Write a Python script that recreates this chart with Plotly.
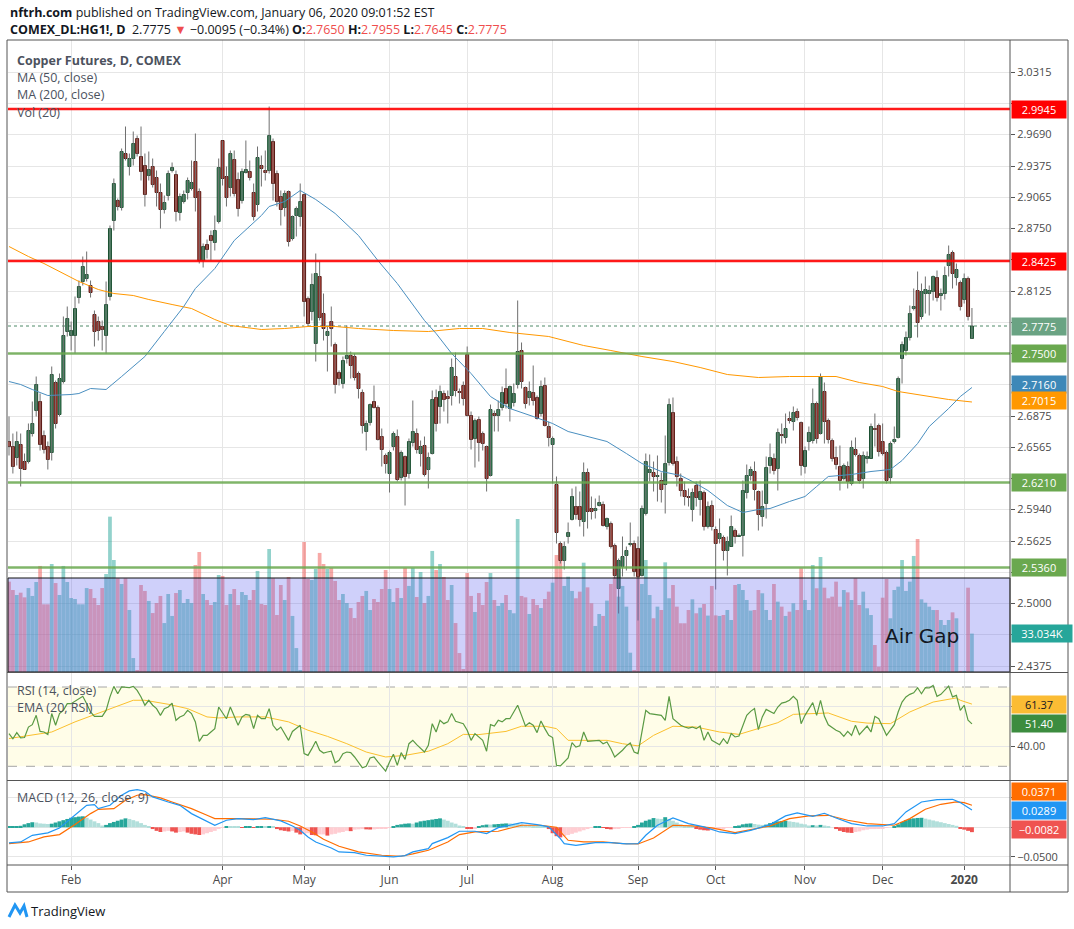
import plotly.graph_objects as go

# ---------------- data ----------------
OPEN = [2.662,2.657,2.646,2.659,2.642,2.642,2.670,2.693,2.702,2.668,2.657,2.651,2.721,2.689,2.722,2.772,2.768,2.768,2.806,2.822,
        2.825,2.818,2.789,2.782,2.777,2.768,2.807,2.883,2.903,2.896,2.950,2.937,2.945,2.965,2.947,2.938,2.928,2.937,2.926,2.911,
        2.894,2.908,2.933,2.929,2.891,2.902,2.911,2.915,2.942,2.912,2.843,2.859,2.868,2.861,2.882,2.963,2.927,2.916,2.944,2.924,
        2.903,2.931,2.932,2.911,2.899,2.938,2.933,2.933,2.962,2.930,2.907,2.896,2.912,2.865,2.888,2.887,2.909,2.805,2.792,2.760,
        2.827,2.790,2.768,2.782,2.759,2.731,2.720,2.745,2.748,2.747,2.730,2.711,2.672,2.681,2.702,2.696,2.667,2.648,2.630,2.657,
        2.667,2.626,2.647,2.630,2.661,2.670,2.650,2.658,2.634,2.650,2.706,2.697,2.710,2.707,2.708,2.727,2.712,2.718,2.749,2.688,
        2.665,2.684,2.670,2.657,2.628,2.690,2.688,2.696,2.715,2.695,2.701,2.719,2.753,2.716,2.706,2.711,2.706,2.690,2.718,2.677,
        2.659,2.619,2.560,2.543,2.567,2.584,2.597,2.597,2.582,2.631,2.595,2.593,2.598,2.599,2.577,2.580,2.558,2.515,2.537,2.548,
        2.559,2.560,2.555,2.528,2.590,2.631,2.631,2.627,2.623,2.619,2.641,2.691,2.642,2.625,2.613,2.607,2.594,2.618,2.604,2.611,
        2.577,2.598,2.574,2.565,2.566,2.553,2.557,2.573,2.567,2.568,2.611,2.628,2.632,2.612,2.587,2.600,2.638,2.645,2.635,2.669,
        2.666,2.685,2.682,2.692,2.681,2.637,2.662,2.663,2.700,2.670,2.712,2.683,2.663,2.646,2.637,2.625,2.637,2.620,2.654,2.648,
        2.625,2.645,2.645,2.675,2.678,2.662,2.651,2.626,2.662,2.666,2.745,2.753,2.766,2.795,2.813,2.787,2.810,2.810,2.812,2.826,
        2.808,2.810,2.838,2.851,2.826,2.821,2.804,2.825,2.765]
HIGH = [2.687,2.670,2.672,2.670,2.650,2.680,2.702,2.727,2.710,2.673,2.662,2.737,2.723,2.730,2.787,2.797,2.782,2.807,2.823,2.847,
        2.852,2.823,2.793,2.787,2.783,2.822,2.878,2.925,2.905,2.955,2.977,2.950,2.972,2.968,2.977,2.950,2.952,2.945,2.933,2.920,
        2.908,2.933,2.941,2.933,2.910,2.913,2.926,2.943,2.970,2.915,2.860,2.864,2.873,2.888,2.945,2.963,2.937,2.953,2.953,2.931,
        2.935,2.963,2.943,2.920,2.957,2.948,2.953,2.997,2.965,2.933,2.913,2.913,2.913,2.888,2.897,2.920,2.910,2.807,2.830,2.850,
        2.842,2.810,2.777,2.797,2.761,2.733,2.747,2.778,2.752,2.750,2.732,2.714,2.683,2.700,2.718,2.698,2.675,2.650,2.653,2.672,
        2.674,2.653,2.648,2.665,2.703,2.675,2.663,2.667,2.651,2.713,2.714,2.718,2.713,2.713,2.745,2.751,2.715,2.722,2.757,2.692,
        2.685,2.687,2.672,2.658,2.699,2.693,2.703,2.717,2.735,2.718,2.720,2.803,2.761,2.717,2.722,2.738,2.708,2.723,2.726,2.682,
        2.667,2.627,2.562,2.562,2.581,2.615,2.617,2.612,2.641,2.635,2.607,2.605,2.608,2.602,2.586,2.582,2.560,2.545,2.567,2.557,
        2.581,2.563,2.567,2.598,2.650,2.649,2.642,2.648,2.631,2.668,2.705,2.706,2.647,2.630,2.622,2.615,2.615,2.622,2.623,2.613,
        2.602,2.603,2.577,2.585,2.568,2.567,2.588,2.575,2.570,2.623,2.639,2.637,2.642,2.613,2.613,2.647,2.660,2.650,2.675,2.680,
        2.690,2.692,2.697,2.695,2.682,2.657,2.677,2.715,2.702,2.730,2.721,2.685,2.665,2.657,2.658,2.640,2.642,2.663,2.666,2.650,
        2.652,2.652,2.680,2.690,2.680,2.680,2.653,2.662,2.677,2.727,2.762,2.772,2.798,2.815,2.832,2.820,2.827,2.818,2.828,2.833,
        2.815,2.837,2.858,2.853,2.840,2.823,2.830,2.827,2.7955]
LOW = [2.648,2.630,2.638,2.617,2.634,2.640,2.667,2.687,2.653,2.650,2.634,2.643,2.675,2.687,2.720,2.767,2.753,2.750,2.800,2.818,
       2.822,2.806,2.757,2.763,2.753,2.750,2.803,2.873,2.893,2.893,2.943,2.928,2.938,2.947,2.923,2.897,2.923,2.916,2.897,2.875,
       2.890,2.903,2.931,2.882,2.883,2.900,2.904,2.913,2.892,2.840,2.836,2.845,2.843,2.853,2.880,2.918,2.897,2.907,2.907,2.887,
       2.900,2.930,2.923,2.883,2.892,2.917,2.923,2.930,2.903,2.897,2.878,2.887,2.857,2.863,2.867,2.877,2.787,2.777,2.783,2.742,
       2.783,2.763,2.732,2.757,2.710,2.718,2.715,2.740,2.725,2.723,2.705,2.670,2.653,2.678,2.695,2.663,2.637,2.630,2.611,2.653,
       2.622,2.623,2.598,2.625,2.657,2.650,2.637,2.627,2.615,2.649,2.672,2.680,2.692,2.680,2.698,2.707,2.700,2.698,2.687,2.654,
       2.636,2.642,2.653,2.612,2.627,2.672,2.672,2.693,2.695,2.682,2.697,2.715,2.715,2.695,2.698,2.698,2.684,2.687,2.677,2.657,
       2.620,2.560,2.540,2.534,2.560,2.583,2.584,2.577,2.567,2.575,2.584,2.585,2.597,2.577,2.574,2.555,2.525,2.490,2.527,2.533,
       2.557,2.527,2.483,2.527,2.588,2.622,2.612,2.602,2.601,2.590,2.638,2.638,2.617,2.607,2.598,2.597,2.582,2.597,2.588,2.573,
       2.575,2.573,2.514,2.560,2.543,2.528,2.557,2.560,2.567,2.547,2.605,2.623,2.603,2.573,2.577,2.585,2.630,2.629,2.613,2.660,
       2.660,2.680,2.673,2.683,2.628,2.630,2.653,2.660,2.660,2.669,2.660,2.660,2.642,2.634,2.613,2.623,2.615,2.618,2.647,2.620,
       2.615,2.640,2.645,2.657,2.647,2.648,2.620,2.620,2.660,2.665,2.720,2.748,2.763,2.793,2.766,2.784,2.790,2.788,2.803,2.802,
       2.793,2.804,2.827,2.815,2.818,2.793,2.800,2.783,2.7645]
CLOSE = [2.657,2.637,2.662,2.635,2.634,2.673,2.680,2.719,2.659,2.654,2.644,2.729,2.680,2.725,2.768,2.785,2.773,2.795,2.817,2.837,
         2.829,2.811,2.772,2.773,2.774,2.799,2.875,2.920,2.897,2.952,2.945,2.945,2.960,2.950,2.932,2.909,2.934,2.919,2.911,2.894,
         2.901,2.930,2.936,2.892,2.907,2.909,2.923,2.921,2.906,2.843,2.857,2.854,2.863,2.873,2.936,2.925,2.906,2.950,2.910,2.895,
         2.932,2.934,2.926,2.887,2.946,2.935,2.931,2.968,2.920,2.902,2.894,2.910,2.862,2.887,2.895,2.902,2.802,2.780,2.819,2.830,
         2.786,2.775,2.772,2.775,2.719,2.725,2.743,2.748,2.738,2.726,2.715,2.678,2.680,2.699,2.696,2.664,2.654,2.640,2.651,2.670,
         2.624,2.651,2.627,2.662,2.672,2.654,2.657,2.629,2.646,2.704,2.680,2.712,2.704,2.705,2.736,2.713,2.711,2.705,2.688,2.664,
         2.683,2.661,2.660,2.625,2.694,2.688,2.694,2.711,2.700,2.717,2.710,2.752,2.722,2.700,2.712,2.703,2.685,2.717,2.678,2.666,
         2.665,2.571,2.543,2.557,2.571,2.607,2.589,2.584,2.631,2.592,2.592,2.595,2.601,2.578,2.585,2.557,2.528,2.543,2.547,2.553,
         2.560,2.532,2.527,2.595,2.642,2.634,2.627,2.628,2.614,2.640,2.699,2.640,2.627,2.613,2.607,2.606,2.611,2.606,2.612,2.577,
         2.597,2.577,2.560,2.570,2.553,2.562,2.577,2.567,2.568,2.613,2.628,2.634,2.614,2.589,2.597,2.636,2.646,2.633,2.671,2.668,
         2.675,2.683,2.691,2.686,2.638,2.653,2.671,2.700,2.665,2.727,2.682,2.664,2.645,2.639,2.623,2.638,2.622,2.656,2.649,2.623,
         2.648,2.647,2.677,2.674,2.652,2.650,2.623,2.660,2.664,2.725,2.759,2.766,2.790,2.797,2.781,2.812,2.814,2.813,2.827,2.806,
         2.810,2.828,2.849,2.830,2.834,2.797,2.825,2.787,2.7775]

VOLUME_K = [77.7,70.5,66.2,68.2,64.2,72.2,65.4,77.4,91.2,58.2,58.2,92.9,76.5,66.2,91.2,77.4,63.6,62.8,58.2,58.2,
            72.2,71.4,63.6,57.6,72.2,84.3,133.6,96.3,80.6,75.7,80.6,53.3,12.0,1.7,74.8,69.7,61.1,50.7,59.3,65.4,
            42.1,67.1,48.2,67.9,70.5,59.3,62.8,59.3,92.0,103.2,67.1,61.9,57.6,60.2,83.4,82.6,57.6,67.1,71.4,57.6,
            68.8,66.2,61.9,70.5,86.9,58.5,57.6,105.8,80.6,49.0,74.8,61.9,81.7,48.2,20.6,1.7,111.8,80.0,79.1,88.6,
            102.4,92.9,88.6,89.5,78.3,61.9,67.1,59.3,55.0,46.4,60.2,65.4,69.7,53.3,62.8,60.2,71.4,87.7,71.4,60.2,
            72.2,63.6,89.5,74.0,89.5,64.5,86.0,59.3,65.4,104.1,87.7,92.9,81.7,61.9,74.8,42.1,16.3,2.6,85.1,65.4,
            51.6,67.9,57.6,77.4,85.1,61.9,56.8,59.3,66.2,53.3,50.5,131.6,65.4,64.2,49.9,62.8,57.6,55.0,62.8,69.1,
            76.8,100.6,96.3,74.0,82.0,69.7,63.4,69.1,94.0,72.8,59.1,39.6,49.9,48.2,61.4,75.7,82.0,64.8,74.0,56.2,
            16.6,1.7,106.4,75.7,96.3,66.2,46.2,56.2,53.3,94.3,63.4,74.8,56.2,41.9,41.9,53.3,62.5,50.5,55.3,58.5,
            48.5,74.0,48.7,48.2,49.0,53.3,44.7,74.8,75.7,70.5,61.9,52.8,53.3,70.5,67.7,53.3,44.7,75.7,60.5,56.2,
            48.2,51.9,59.1,53.3,89.2,61.9,53.3,92.0,72.0,98.9,72.5,63.4,64.8,77.7,56.2,70.5,68.5,61.9,80.6,57.6,
            69.1,54.8,49.0,23.2,4.6,63.9,80.0,46.2,70.5,73.4,96.3,69.7,77.7,99.8,114.4,62.5,59.6,56.2,53.3,53.3,
            44.7,40.4,44.7,51.3,46.2,0.9,0.9,72.5,33.034]

MA50_IDX = [0,3,6,10,16,18,21,25,29,35,40,45,48,53,58,65,67,71,75,79,84,90,95,100,107,110,114,119,124,129,
            135,140,144,149,154,159,163,168,173,176,180,185,189,193,196,201,205,208,211,217,222,227,230,234,237,242,245,248]
MA50_VAL = [2.722,2.719,2.714,2.708,2.709,2.710,2.715,2.714,2.727,2.747,2.772,2.797,2.815,2.835,2.863,2.888,2.897,2.902,2.913,2.904,
            2.890,2.868,2.843,2.820,2.783,2.770,2.750,2.730,2.707,2.695,2.687,2.680,2.672,2.667,2.662,2.650,2.640,2.632,2.628,2.622,
            2.613,2.598,2.591,2.594,2.595,2.602,2.607,2.617,2.627,2.629,2.632,2.634,2.643,2.660,2.677,2.695,2.707,2.716]
MA200_IDX = [0,5,9,13,18,23,27,32,36,42,47,53,57,65,71,77,84,90,99,108,116,122,129,139,148,155,163,171,178,185,
             193,201,213,219,225,229,235,242,248]
MA200_VAL = [2.857,2.847,2.840,2.832,2.822,2.814,2.810,2.808,2.804,2.799,2.795,2.784,2.778,2.774,2.775,2.777,2.777,2.775,2.773,2.772,
             2.775,2.775,2.771,2.767,2.758,2.753,2.747,2.742,2.736,2.729,2.726,2.727,2.727,2.721,2.717,2.712,2.708,2.704,2.7015]

RSI_IDX = [0,1,2,3,4,5,6,7,8,9,10,11,12,13,14,15,16,17,18,19,20,21,22,23,24,25,26,27,28,29,30,31,32,33,34,35,36,37,38,39,
           40,41,42,43,44,45,46,47,48,49,50,51,52,53,54,55,56,57,58,59,60,61,62,63,64,65,66,67,68,69,70,71,72,73,74,75,76,77,78,79,
           80,81,82,83,84,85,86,87,88,89,91,92,93,94,95,96,97,98,99,100,101,102,103,104,105,107,108,109,110,111,112,113,114,115,
           117,118,119,120,121,122,123,124,125,126,127,128,129,131,132,133,134,135,136,137,138,139,140,141,142,144,145,146,147,148,
           149,151,152,153,154,155,156,158,159,160,161,162,163,164,165,167,168,169,170,171,173,174,175,176,177,178,179,180,181,183,
           184,185,186,187,188,190,191,192,193,194,195,197,198,199,200,201,202,203,204,205,206,207,208,209,210,211,213,214,215,216,
           217,218,219,221,222,223,224,225,226,228,229,230,231,232,233,234,235,236,237,238,239,240,241,242,243,244,245,246,247,248]
RSI_VAL = [46.5,43.9,47.0,44.3,44.5,49.8,51.0,55.7,47.6,47.3,46.0,56.6,50.7,56.6,58.2,61.6,61.6,62.8,63.8,65.3,61.6,57.4,55.2,55.2,55.2,
           58.2,65.0,70.3,66.6,70.0,69.7,69.7,70.3,68.3,65.0,60.8,63.3,60.8,59.1,55.7,59.1,59.9,61.9,53.2,54.9,55.7,58.2,56.6,52.4,42.6,
           45.6,45.6,47.3,49.0,59.9,56.6,54.0,59.9,54.9,50.7,54.9,56.2,55.7,49.0,55.7,54.0,54.0,59.1,50.7,48.2,49.8,46.5,43.1,47.6,49.3,
           50.7,36.4,35.5,38.9,42.6,38.1,36.7,37.2,37.6,31.8,33.0,36.4,37.2,36.9,34.7,29.3,30.0,34.2,34.7,32.2,29.7,27.6,32.2,36.1,30.5,
           36.9,33.5,41.4,43.1,40.9,37.2,40.6,51.5,47.3,53.2,51.5,52.4,56.6,52.7,51.5,48.2,43.1,46.5,44.8,43.1,37.6,51.0,50.3,53.2,52.4,
           54.0,54.0,60.8,55.7,50.3,52.0,50.7,47.0,52.9,49.0,45.6,44.5,30.5,30.2,34.2,41.9,39.7,40.3,47.3,42.6,43.1,43.1,41.4,42.3,38.9,
           34.7,38.1,40.3,41.8,37.2,36.4,48.2,58.2,56.6,56.1,55.7,53.2,65.3,54.0,50.7,49.8,49.3,49.8,49.0,50.3,43.1,47.3,43.1,40.9,43.9,
           41.4,46.5,44.8,45.3,55.7,57.7,59.1,48.5,54.9,58.7,56.6,59.9,61.9,62.4,63.3,65.3,63.3,51.5,55.7,58.7,62.1,55.7,63.3,55.2,50.9,
           48.2,47.3,45.1,47.6,45.6,50.7,46.0,50.3,47.3,55.2,54.0,49.8,45.6,51.0,57.4,62.4,65.0,66.3,67.1,69.6,66.6,69.7,69.5,70.8,65.3,
           66.3,68.3,70.5,65.0,65.8,58.2,60.8,53.2,51.40]
EMA_IDX = [0,6,11,17,22,27,32,35,41,46,51,54,59,66,72,77,82,87,92,97,102,108,113,117,121,128,132,138,141,144,
           149,154,158,162,166,171,177,183,188,193,198,202,207,211,217,221,227,232,238,244,245,248]
EMA_VAL = [44.0,45.6,47.3,52.4,56.1,59.9,63.3,63.3,61.3,59.1,54.9,54.4,54.9,54.9,52.4,48.2,45.1,41.4,37.2,34.7,
           35.5,37.6,41.4,46.1,46.0,47.6,50.2,50.2,49.0,43.1,43.1,43.1,41.4,40.3,45.6,50.2,49.8,47.3,46.1,49.0,
           52.0,56.2,56.6,56.9,52.7,51.8,51.5,57.4,62.4,64.5,63.3,61.37]

MACD_IDX = [0,3,6,10,13,17,20,22,23,26,29,31,33,35,37,41,44,47,51,53,56,59,63,66,70,73,75,77,79,83,
            85,89,92,96,99,102,104,108,109,113,116,120,123,126,132,136,139,142,143,146,151,155,159,162,164,167,171,175,179,183,
            187,191,196,200,203,207,210,213,217,221,225,228,231,235,239,243,245,248]
MACD_VAL = [-0.0264,-0.0247,-0.0135,-0.0095,-0.0011,0.0202,0.037,0.038,0.0314,0.037,0.0539,0.0612,0.0634,0.0606,0.0511,0.0426,0.037,0.023,0.009,0.0034,
            0.0118,0.0146,0.0129,0.0163,0.0107,0.0022,-0.0051,-0.0163,-0.0247,-0.0348,-0.0415,-0.0426,-0.0471,-0.0483,-0.0499,-0.0477,-0.0415,-0.0359,-0.0275,-0.0174,
            -0.0067,-0.0067,-0.0107,-0.0006,0.0079,0.0045,0.0006,-0.0191,-0.0275,-0.0303,-0.0258,-0.0258,-0.0281,-0.0275,-0.0135,0.0034,0.0157,0.0062,0.0006,-0.0079,
            -0.0107,-0.0051,0.0045,0.0191,0.0241,0.0185,0.0236,0.0157,0.0062,0.0022,0.0022,0.0062,0.0258,0.0426,0.0466,0.0471,0.0415,0.0289]
SIGNAL_IDX = [0,5,9,13,17,21,23,27,30,33,35,39,42,47,51,53,58,63,68,72,75,78,81,85,90,96,101,104,108,113,
              116,120,123,126,132,137,141,144,148,153,158,162,166,171,176,181,187,192,196,201,206,211,216,221,225,228,232,236,240,244,246,248]
SIGNAL_VAL = [-0.0275,-0.0247,-0.0163,-0.0123,0.0045,0.023,0.0303,0.0314,0.0455,0.0539,0.055,0.0494,0.0426,0.0314,0.0202,0.0146,0.0146,0.0135,0.0135,0.0101,
              0.0022,-0.0079,-0.0202,-0.032,-0.0415,-0.0471,-0.0488,-0.0449,-0.0387,-0.0247,-0.0123,-0.0079,-0.0079,-0.0067,0.0034,0.0034,0.0,-0.0219,-0.0247,-0.0247,
              -0.0275,-0.0281,-0.018,0.0034,0.0022,-0.0011,-0.009,-0.0022,0.0022,0.0146,0.0191,0.0202,0.0118,0.0062,0.0045,0.0034,0.0146,0.0303,0.0387,0.0426,
              0.0415,0.0371]
HIST_MILLI = [1.0,1.5,2.0,2.5,5,7,8.5,8,6.5,6,5.5,
              6,8,10,12,14,16,17,18,18.5,16,13,10,7,3,
              4,7,9,11,13,15,14,12,10,7,4,1,
              -3,-6,-8,-7,-6,-7,-9,-8,-7,-9,-11,-12,-13,-12,-10,-8,-6,-3,-1,
              2,2,1,0.5,-0.5,0.5,1,-0.5,1,1.5,1.5,2,2,
              -3,-5,-6,-7,-6,-9,-12,-11,-10,-13,-13.5,-12,-12,-14,-12,-11,-9,-8,-6,-6.5,-4,-3.5,-3,-3.5,-3.8,-3.5,-2,-2,-1.5,-1,
              2,4,5,6,6.5,6,8,10,11,12,13,14,15,13,11,8,6,3,1,-2,-3,-2,2,3.5,4.5,
              4.5,5,5.5,6,6.5,6.5,6,5.5,5,4,3.5,3,2.5,2,1,-3,-10,-15,-17,-15,
              -13,-11,-9,-7,-5,-3,-1,0.5,1,-1,-2,-3.5,-3,-1.5,-1,-1,-0.5,1,4,8,
              11,13,15.5,14.5,14,17,14,11,8,5,3,1,0.5,-2,-4,-5,-5.5,-5,-4,-3,
              -2,-1,-0.5,0.5,3,5,6,6.5,5.5,4.5,4,4.5,7,9,10,10.5,11,10,9,8,
              6,5,3,3.5,3,4,3,2,0,-3,-6,-8,-9,-9.5,-8,-7,-5,-4,-3,-3,
              -2.5,-2,-1,0,2,5,9,12,14,15,15.7,16,14.5,13,11.5,10,8.5,7,5.5,4,
              2.5,-2,-4,-6,-8.2]

MONTH_IDX = [16, 55, 76, 98, 118, 140, 162, 182, 205, 225, 246]
MONTH_LABELS = ["Feb", "Apr", "May", "Jun", "Jul", "Aug", "Sep", "Oct", "Nov", "Dec", "<b>2020</b>"]
PRICE_TICKS = [3.0315, 3.0000, 2.9690, 2.9375, 2.9065, 2.8750, 2.8440, 2.8125, 2.7815, 2.7500,
               2.7190, 2.6875, 2.6565, 2.6250, 2.5940, 2.5625, 2.5315, 2.5000, 2.4690, 2.4375]
# tick labels hidden behind the coloured value tags on the right axis
COVERED_TICKS = [3.0000, 2.8440, 2.7815, 2.7500, 2.7190, 2.6250, 2.5315, 2.4690]
RED_LEVELS = [2.9945, 2.8425]
GREEN_LEVELS = [2.7500, 2.6210, 2.5360]
AIR_GAP_TOP = 2.5255

# ---------------- geometry helpers ----------------
W, H = 1074, 929
PL, PR, PT, PB = 8, 1010, 40, 865


def pxx(x):
    return (x - PL) / (PR - PL)


def pyy(y):
    return (PB - y) / (PB - PT)


FONT = "Open Sans"
n = len(CLOSE)
idx = list(range(n))
up = [c >= o for o, c in zip(OPEN, CLOSE)]

fig = go.Figure()

# volume (base axis y, below candles)
vol_colors = ["rgba(38,166,154,0.5)" if u else "rgba(239,83,80,0.5)" for u in up]
fig.add_trace(go.Bar(x=idx, y=VOLUME_K, width=0.96, marker=dict(color=vol_colors, line=dict(width=0)),
                     xaxis="x", yaxis="y", hoverinfo="skip"))

# wicks
wx, wy = [], []
for i, (hh, ll) in enumerate(zip(HIGH, LOW)):
    wx += [i, i, None]
    wy += [ll, hh, None]
fig.add_trace(go.Scatter(x=wx, y=wy, mode="lines", line=dict(color="#6f6f6f", width=1),
                         xaxis="x", yaxis="y4", hoverinfo="skip"))

# bodies
for is_up, fill, edge in [(True, "#3b8c5e", "#1b4f31"), (False, "#c23b30", "#581812")]:
    xs = [i for i in idx if up[i] == is_up]
    base = [min(OPEN[i], CLOSE[i]) for i in xs]
    hgt = [max(abs(CLOSE[i] - OPEN[i]), 0.0008) for i in xs]
    fig.add_trace(go.Bar(x=xs, y=hgt, base=base, width=0.76,
                         marker=dict(color=fill, line=dict(color=edge, width=1)),
                         xaxis="x", yaxis="y4", hoverinfo="skip"))

# moving averages
fig.add_trace(go.Scatter(x=MA200_IDX, y=MA200_VAL, mode="lines", line=dict(color="#ff9800", width=1),
                         xaxis="x", yaxis="y4", hoverinfo="skip"))
fig.add_trace(go.Scatter(x=MA50_IDX, y=MA50_VAL, mode="lines", line=dict(color="#4a8fc0", width=1),
                         xaxis="x", yaxis="y4", hoverinfo="skip"))

# RSI pane
fig.add_trace(go.Scatter(x=EMA_IDX, y=EMA_VAL, mode="lines", line=dict(color="#fbc02d", width=1),
                         xaxis="x2", yaxis="y2", hoverinfo="skip"))
fig.add_trace(go.Scatter(x=RSI_IDX, y=RSI_VAL, mode="lines", line=dict(color="#5a9a44", width=1.2),
                         xaxis="x2", yaxis="y2", hoverinfo="skip"))

# MACD pane
hist = [v / 1000.0 for v in HIST_MILLI]
hcol = []
for i, hv in enumerate(hist):
    prev = hist[i - 1] if i > 0 else 0.0
    if hv >= 0:
        hcol.append("#26a69a" if hv > prev else "#b2dfdb")
    else:
        hcol.append("#ef5350" if hv < prev else "#ffcdd2")
fig.add_trace(go.Bar(x=idx, y=hist, width=1.0, marker=dict(color=hcol, line=dict(width=0)),
                     xaxis="x3", yaxis="y3", hoverinfo="skip"))
fig.add_trace(go.Scatter(x=SIGNAL_IDX, y=SIGNAL_VAL, mode="lines", line=dict(color="#ff6d00", width=1.2),
                         xaxis="x3", yaxis="y3", hoverinfo="skip"))
fig.add_trace(go.Scatter(x=MACD_IDX, y=MACD_VAL, mode="lines", line=dict(color="#2196f3", width=1.2),
                         xaxis="x3", yaxis="y3", hoverinfo="skip"))

# ---------------- axes ----------------
XR = [-0.26, 257.8]
GRID = "#e6e6e6"
TICKF = dict(family=FONT, size=11, color="#4a4a4a")
xcommon = dict(range=XR, tickmode="array", tickvals=MONTH_IDX, showgrid=True, gridcolor=GRID,
               zeroline=False, showline=False, fixedrange=True)
price_dom = [pyy(672), 1.0]
rsi_dom = [pyy(780), pyy(673)]
macd_dom = [0.0, pyy(781)]
price_text = ["" if v in COVERED_TICKS else f"{v:.4f}" for v in PRICE_TICKS]

fig.update_layout(
    width=W, height=H,
    margin=dict(l=PL, r=W - PR, t=PT, b=H - PB),
    paper_bgcolor="white", plot_bgcolor="white",
    showlegend=False, hovermode=False, barmode="overlay",
    xaxis=dict(xcommon, domain=[0, 1], anchor="y", showticklabels=False, ticks=""),
    xaxis2=dict(xcommon, domain=[0, 1], anchor="y2", showticklabels=False, ticks="", matches="x"),
    xaxis3=dict(xcommon, domain=[0, 1], anchor="y3", ticktext=MONTH_LABELS, showticklabels=True,
                ticks="outside", ticklen=4, tickcolor="#555555",
                tickfont=dict(family=FONT, size=12, color="#4a4a4a"), matches="x"),
    yaxis=dict(domain=price_dom, anchor="x", range=[0, 543.5], showgrid=False, showticklabels=False,
               zeroline=False, ticks="", fixedrange=True),
    yaxis4=dict(overlaying="y", anchor="x", side="right", range=[2.4315, 3.0635], tickmode="array",
                tickvals=PRICE_TICKS, ticktext=price_text, showgrid=True,
                gridcolor=GRID, zeroline=False, ticks="outside", ticklen=4, tickcolor="#555555",
                tickfont=TICKF, fixedrange=True),
    yaxis2=dict(domain=rsi_dom, anchor="x2", side="right", range=[23.09, 77.06], tickmode="array",
                tickvals=[40, 60], ticktext=["40.00", ""], showgrid=True, gridcolor=GRID, zeroline=False,
                ticks="outside", ticklen=4, tickcolor="#555555", tickfont=TICKF, fixedrange=True),
    yaxis3=dict(domain=macd_dom, anchor="x3", side="right", range=[-0.0635, 0.0779], tickmode="array",
                tickvals=[-0.05, 0.0, 0.05], ticktext=["\u22120.0500", "", ""], showgrid=True,
                gridcolor=GRID, zeroline=False, ticks="outside", ticklen=4, tickcolor="#555555",
                tickfont=TICKF, fixedrange=True),
)

shapes = []
# RSI band and 70/30 dashed lines
shapes.append(dict(type="rect", xref="x2 domain", x0=0, x1=1, yref="y2", y0=30, y1=70,
                   fillcolor="#fffde8", line=dict(width=0), layer="below"))
for lv in (70, 30):
    shapes.append(dict(type="line", xref="x2 domain", x0=0, x1=1, yref="y2", y0=lv, y1=lv,
                       line=dict(color="#a6a6a6", width=1, dash="dash"), layer="below"))
# last price dotted line
shapes.append(dict(type="line", xref="x domain", x0=0, x1=1, yref="y4", y0=CLOSE[-1], y1=CLOSE[-1],
                   line=dict(color="#4f8a68", width=1, dash="dot"), layer="below"))
# level lines
for lv in RED_LEVELS:
    shapes.append(dict(type="line", xref="x domain", x0=0, x1=1, yref="y4", y0=lv, y1=lv,
                       line=dict(color="rgba(255,0,0,0.9)", width=2.4), layer="above"))
for lv in GREEN_LEVELS:
    shapes.append(dict(type="line", xref="x domain", x0=0, x1=1, yref="y4", y0=lv, y1=lv,
                       line=dict(color="rgba(106,168,79,0.85)", width=2.6), layer="above"))
# "Air Gap" box over the volume area
shapes.append(dict(type="rect", xref="x domain", x0=0, x1=1, yref="y4", y0=2.4315, y1=AIR_GAP_TOP,
                   fillcolor="rgba(95,98,238,0.30)", line=dict(color="#111111", width=1), layer="above"))
# frame and pane separators
FR = "#555555"
fx0, fx1 = pxx(7), pxx(1068)
shapes.append(dict(type="rect", xref="paper", yref="paper", x0=fx0, x1=fx1, y0=pyy(892), y1=pyy(40),
                   line=dict(color=FR, width=1), fillcolor="rgba(0,0,0,0)", layer="above"))
shapes.append(dict(type="line", xref="paper", yref="paper", x0=1, x1=1, y0=pyy(892), y1=pyy(40),
                   line=dict(color=FR, width=1), layer="above"))
for yl in (672.5, 780.5, 865):
    shapes.append(dict(type="line", xref="paper", yref="paper", x0=fx0, x1=fx1, y0=pyy(yl), y1=pyy(yl),
                       line=dict(color=FR, width=1), layer="above"))
# TradingView logo mark
shapes.append(dict(type="path", xref="paper", yref="paper",
                   path=f"M {pxx(9)},{pyy(917)} L {pxx(15)},{pyy(905)} L {pxx(20)},{pyy(913)} "
                        f"L {pxx(24)},{pyy(906)} L {pxx(27)},{pyy(917)}",
                   line=dict(color="#2196f3", width=3), layer="above"))
fig.update_layout(shapes=shapes)

ann = []


def text(x, y, s, size=12, color="#4c525e", family=FONT, anchor="left"):
    ann.append(dict(x=pxx(x), y=pyy(y), xref="paper", yref="paper", xanchor=anchor, yanchor="middle",
                    text=s, showarrow=False, font=dict(family=family, size=size, color=color)))


RED_T = "#ef4d4d"
text(8, 12, "<b>nftrh.com</b> published on TradingView.com, January 06, 2020 09:01:52 EST", 12.5, "#131722")
text(8, 30, f"<b>COMEX_DL:HG1!, D</b>  {CLOSE[-1]:.4f} <span style='color:{RED_T}'>\u25bc</span> "
            f"\u22120.0095 (\u22120.34%) <b>O:</b><span style='color:{RED_T}'>{OPEN[-1]:.4f}</span> "
            f"<b>H:</b><span style='color:{RED_T}'>{HIGH[-1]:.4f}</span> "
            f"<b>L:</b><span style='color:{RED_T}'>{LOW[-1]:.4f}</span> "
            f"<b>C:</b><span style='color:{RED_T}'>{CLOSE[-1]:.4f}</span>", 12.5, "#131722")
text(15, 60, "<b>Copper Futures, D, COMEX</b>", 12.5)
text(15, 78, "MA (50, close)", 12.5)
text(15, 95, "MA (200, close)", 12.5)
text(15, 112, "Vol (20)", 12.5)
text(15, 690, "RSI (14, close)", 12.5)
text(15, 707, "EMA (20, RSI)", 12.5)
text(15, 797, "MACD (12, 26, close, 9)", 12.5)
text(922, 636, "Air Gap", 20, "#131722", "DejaVu Sans", "center")
text(29, 911, "TradingView", 13, "#131722")


def box(s, yref, yv, bg, fg="white", yshift=0, width=50):
    ann.append(dict(x=1, xref="paper", xanchor="left", y=yv, yref=yref, yanchor="middle", text=s,
                    showarrow=False, font=dict(family=FONT, size=11, color=fg), bgcolor=bg,
                    borderpad=2, width=width, height=13, align="center", yshift=yshift, xshift=1))


for lv in RED_LEVELS:
    box(f"{lv:.4f}", "y4", lv, "#ff0000")
box(f"{CLOSE[-1]:.4f}", "y4", CLOSE[-1], "#6aa383")
for lv in GREEN_LEVELS:
    box(f"{lv:.4f}", "y4", lv, "#6aa84f")
box(f"{MA50_VAL[-1]:.4f}", "y4", MA50_VAL[-1], "#3d88b8", yshift=3)
box(f"{MA200_VAL[-1]:.4f}", "y4", MA200_VAL[-1], "#ff9800", yshift=1.5)
box(f"{VOLUME_K[-1]:.3f}K", "y", VOLUME_K[-1], "#26a69a", width=56)
box(f"{EMA_VAL[-1]:.2f}", "y2", EMA_VAL[-1], "#fbbc34", fg="#131722")
box(f"{RSI_VAL[-1]:.2f}", "y2", RSI_VAL[-1], "#3c8c3f")
box(f"{SIGNAL_VAL[-1]:.4f}", "y3", SIGNAL_VAL[-1], "#ff6d00", yshift=14)
box(f"{MACD_VAL[-1]:.4f}", "y3", MACD_VAL[-1], "#2196f3")
box(f"\u2212{abs(HIST_MILLI[-1]) / 1000:.4f}", "y3", HIST_MILLI[-1] / 1000, "#ef5350", yshift=3)

fig.update_layout(annotations=ann)

fig.write_html("out.html", config={"displayModeBar": False},
               post_script="document.body.style.margin='0';document.body.style.overflow='hidden';")
